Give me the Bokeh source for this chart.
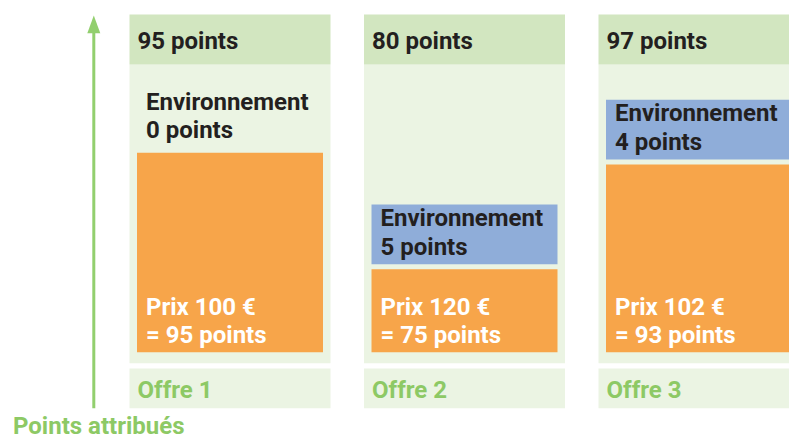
from bokeh.plotting import figure
from bokeh.models import Range1d, ColumnDataSource
from bokeh.embed import file_html
from bokeh.resources import INLINE

# ---- data ----
offers = ["Offre 1", "Offre 2", "Offre 3"]
prices_eur = [100, 120, 102]
price_points = [95, 75, 93]
env_points = [0, 5, 4]
total_points = [95, 80, 97]
axis_label = "Points attribués"

# ---- style / layout ----
W, H = 789, 441
FONT = "Roboto"
FS = "24px"
C_HEAD = "#d2e6c0"
C_PANEL = "#ebf4e3"
C_ORANGE = "#f7a54a"
C_BLUE = "#8fadd9"
C_DARK = "#231f20"
C_GREEN = "#8dc965"
C_ARROW = "#92cf6e"

COL_X0 = 129.0
COL_STEP = 234.5
COL_W = 201.0
INSET = 7.5
HEAD_TOP, HEAD_BOT = 14.0, 64.0
PANEL_BOT = 362.7
FOOT_TOP, FOOT_BOT = 368.0, 407.7
BASE_Y = 351.7
# schematic scale for price points (truncated axis)
K = 5.82
P0 = 60.75
ENV_BOX_H = 59.7
GAP = 5.0
TDY = -9.0  # baseline correction


def y_of(pts):
    return BASE_Y - K * (pts - P0)


n = len(offers)
left = [COL_X0 + i * COL_STEP for i in range(n)]
right = [l + COL_W for l in left]
bl = [l + INSET for l in left]
br = [r - INSET for r in right]

orange_top = [y_of(v) for v in price_points]
blue_bot = [t - GAP for t in orange_top]
blue_top = [b - ENV_BOX_H for b in blue_bot]

p = figure(width=W, height=H, x_range=Range1d(0, W), y_range=Range1d(H, 0),
           output_backend="svg", toolbar_location=None, min_border=0)
p.axis.visible = False
p.grid.visible = False
p.outline_line_color = None
p.background_fill_color = "white"
p.border_fill_color = "white"

# panels
p.quad(left=left, right=right, top=[HEAD_BOT] * n, bottom=[PANEL_BOT] * n,
       fill_color=C_PANEL, line_color=None)
p.quad(left=left, right=right, top=[HEAD_TOP] * n, bottom=[HEAD_BOT] * n,
       fill_color=C_HEAD, line_color=None)
p.quad(left=left, right=right, top=[FOOT_TOP] * n, bottom=[FOOT_BOT] * n,
       fill_color=C_PANEL, line_color=None)

# price bars
p.quad(left=bl, right=br, top=orange_top, bottom=[BASE_Y] * n,
       fill_color=C_ORANGE, line_color=None)

# environment boxes (only if points > 0)
eb = ColumnDataSource(dict(
    left=[bl[i] for i in range(n) if env_points[i] > 0],
    right=[br[i] for i in range(n) if env_points[i] > 0],
    top=[blue_top[i] for i in range(n) if env_points[i] > 0],
    bottom=[blue_bot[i] for i in range(n) if env_points[i] > 0],
))
p.quad(left="left", right="right", top="top", bottom="bottom", source=eb,
       fill_color=C_BLUE, line_color=None)

def txt(xs, ys, texts, color):
    src = ColumnDataSource(dict(x=xs, y=[y + TDY for y in ys], t=texts))
    p.text(x="x", y="y", text="t", source=src, text_color=color,
           text_font_size=FS, text_font_style="bold",
           text_align="left", text_baseline="alphabetic",
           text_font={"value": FONT})

# header totals
txt([l + 8 for l in left], [49.5] * n, [f"{v} points" for v in total_points], C_DARK)
# env labels
txt([x + 9 for x in bl], [t + 22.5 for t in blue_top], ["Environnement"] * n, C_DARK)
txt([x + 9 for x in bl], [t + 51 for t in blue_top], [f"{v} points" for v in env_points], C_DARK)
# price labels
txt([x + 9 for x in bl], [BASE_Y - 36.7] * n, [f"Prix {v} €" for v in prices_eur], "white")
txt([x + 9 for x in bl], [BASE_Y - 8.4] * n, [f"= {v} points" for v in price_points], "white")
# footer
txt([l + 8 for l in left], [398.3] * n, offers, C_GREEN)
# axis label
txt([12.5], [434.5], [axis_label], C_GREEN)

# arrow
AX = 93.3
p.segment(x0=[AX], y0=[FOOT_BOT], x1=[AX], y1=[30.0], line_color=C_ARROW, line_width=3)
p.patch(x=[AX - 6.5, AX, AX + 6.5], y=[32.7, 15.0, 32.7], fill_color=C_ARROW, line_color=None)

open("out.html", "w").write(file_html(p, INLINE))
